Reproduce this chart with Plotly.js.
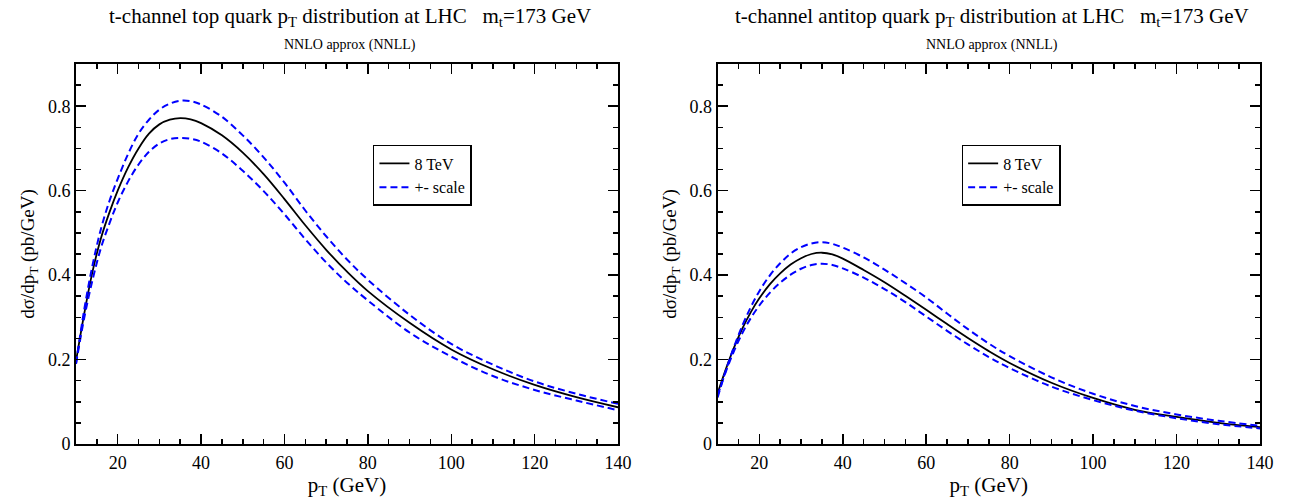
<!DOCTYPE html>
<html>
<head>
<meta charset="utf-8">
<script src="https://cdn.plot.ly/plotly-3.0.1.min.js"></script>
<style>html,body{margin:0;padding:0;background:#fff;}#chart{width:1290px;height:499px;}</style>
</head>
<body>
<div id="chart"></div>
<script>
// p_T grid (GeV)
const ptValues = [10,12,14,16,18,20,22.5,25,27.5,30,32.5,35,37.5,40,45,50,55,60,65,70,75,80,90,100,110,120,130,140];

// Left panel: top quark, 8 TeV
const topCentral = [0.196,0.31,0.41,0.488,0.548,0.600,0.655,0.700,0.735,0.757,0.768,0.772,0.769,0.760,0.731,0.690,0.639,0.580,0.518,0.460,0.408,0.362,0.287,0.224,0.177,0.140,0.111,0.087];
const topUpper   = [0.19,0.32,0.425,0.51,0.575,0.628,0.687,0.735,0.768,0.792,0.806,0.813,0.812,0.804,0.775,0.731,0.679,0.619,0.553,0.492,0.437,0.389,0.306,0.237,0.188,0.148,0.119,0.095];
const topLower   = [0.19,0.30,0.39,0.465,0.522,0.572,0.622,0.662,0.692,0.712,0.722,0.725,0.723,0.716,0.688,0.647,0.599,0.544,0.485,0.430,0.382,0.340,0.264,0.207,0.161,0.128,0.103,0.080];

// Right panel: antitop quark, 8 TeV
const antiCentral = [0.12,0.178,0.23,0.275,0.313,0.345,0.378,0.404,0.425,0.440,0.450,0.453,0.449,0.439,0.412,0.383,0.351,0.318,0.284,0.251,0.220,0.192,0.145,0.109,0.081,0.064,0.050,0.040];
const antiUpper   = [0.11,0.175,0.232,0.282,0.325,0.362,0.399,0.428,0.451,0.466,0.475,0.478,0.474,0.465,0.442,0.413,0.381,0.347,0.309,0.272,0.238,0.208,0.158,0.119,0.090,0.070,0.055,0.043];
const antiLower   = [0.115,0.172,0.222,0.264,0.299,0.328,0.358,0.382,0.401,0.415,0.424,0.427,0.424,0.416,0.394,0.367,0.336,0.302,0.268,0.236,0.206,0.180,0.136,0.104,0.079,0.061,0.047,0.037];

const seriesNames = ['8 TeV', '+- scale'];
const titleLeft = 't-channel top quark p<sub>T</sub> distribution at LHC\u00a0\u00a0\u00a0m<sub>t</sub>=173 GeV';
const titleRight = 't-channel antitop quark p<sub>T</sub> distribution at LHC\u00a0\u00a0\u00a0m<sub>t</sub>=173 GeV';
const subTitle = 'NNLO approx (NNLL)';
const xTitle = 'p<sub>T</sub> (GeV)';
const yTitle = 'd\u03c3/dp<sub>T</sub> (pb/GeV)';

const FONT = '"Liberation Serif", "Times New Roman", Times, serif';
const blueDash = {color:'#0000ff', width:2, dash:'7px,4px', shape:'spline', smoothing:1};
const blackLine = {color:'#000000', width:1.8, shape:'spline', smoothing:1};

const traces = [
  {x:ptValues, y:topCentral, type:'scatter', mode:'lines', name:seriesNames[0], line:blackLine, xaxis:'x', yaxis:'y', legend:'legend'},
  {x:ptValues, y:topUpper, type:'scatter', mode:'lines', name:seriesNames[1], line:blueDash, xaxis:'x', yaxis:'y', legend:'legend'},
  {x:ptValues, y:topLower, type:'scatter', mode:'lines', name:seriesNames[1], line:blueDash, xaxis:'x', yaxis:'y', legend:'legend', showlegend:false},
  {x:ptValues, y:antiCentral, type:'scatter', mode:'lines', name:seriesNames[0], line:blackLine, xaxis:'x2', yaxis:'y2', legend:'legend2'},
  {x:ptValues, y:antiUpper, type:'scatter', mode:'lines', name:seriesNames[1], line:blueDash, xaxis:'x2', yaxis:'y2', legend:'legend2'},
  {x:ptValues, y:antiLower, type:'scatter', mode:'lines', name:seriesNames[1], line:blueDash, xaxis:'x2', yaxis:'y2', legend:'legend2', showlegend:false}
];

function xAxis(domain, anchor){
  return {
    domain:domain, anchor:anchor, range:[10,140], tick0:0, dtick:20,
    ticks:'inside', ticklen:10, tickwidth:1.5, tickcolor:'#000',
    minor:{dtick:5, ticks:'inside', ticklen:5, tickwidth:1.5, tickcolor:'#000', showgrid:false},
    mirror:'ticks', showline:true, linewidth:2, linecolor:'#000',
    showgrid:false, zeroline:false, ticklabelstandoff:1,
    tickfont:{family:FONT, size:18, color:'#000'},
    title:{text:xTitle, font:{family:FONT, size:21, color:'#000'}, standoff:2}
  };
}
function yAxis(anchor){
  return {
    anchor:anchor, range:[0,0.9], tick0:0, dtick:0.2,
    ticks:'inside', ticklen:10, tickwidth:1.5, tickcolor:'#000',
    minor:{dtick:0.05, ticks:'inside', ticklen:5, tickwidth:1.5, tickcolor:'#000', showgrid:false},
    mirror:'ticks', showline:true, linewidth:2, linecolor:'#000',
    showgrid:false, zeroline:false, ticklabelstandoff:0,
    tickfont:{family:FONT, size:18, color:'#000'},
    title:{text:yTitle, font:{family:FONT, size:19, color:'#000'}, standoff:8}
  };
}
const legendBase = {
  xanchor:'left', yanchor:'top', bgcolor:'#fff', bordercolor:'#000', borderwidth:1.5,
  font:{family:FONT, size:16, color:'#000'}, tracegroupgap:0
};

const layout = {
  width:1290, height:499,
  margin:{l:76, r:30, t:64, b:55},
  paper_bgcolor:'#fff', plot_bgcolor:'#fff',
  showlegend:true,
  font:{family:FONT, color:'#000'},
  xaxis: xAxis([0, 0.4578], 'y'),
  yaxis: yAxis('x'),
  xaxis2: xAxis([0.5419, 1], 'y2'),
  yaxis2: yAxis('x2'),
  legend: Object.assign({x:0.2508, y:0.787}, legendBase),
  legend2: Object.assign({x:0.748, y:0.787}, legendBase),
  annotations:[
    {text:titleLeft, xref:'paper', yref:'paper', x:0.2314, y:1.124, xanchor:'center', yanchor:'middle', showarrow:false, font:{family:FONT, size:21, color:'#000'}},
    {text:subTitle, xref:'paper', yref:'paper', x:0.2314, y:1.05, xanchor:'center', yanchor:'middle', showarrow:false, font:{family:FONT, size:14, color:'#000'}},
    {text:titleRight, xref:'paper', yref:'paper', x:0.7736, y:1.124, xanchor:'center', yanchor:'middle', showarrow:false, font:{family:FONT, size:21, color:'#000'}},
    {text:subTitle, xref:'paper', yref:'paper', x:0.7736, y:1.05, xanchor:'center', yanchor:'middle', showarrow:false, font:{family:FONT, size:14, color:'#000'}}
  ]
};

Plotly.newPlot('chart', traces, layout, {staticPlot:true, displayModeBar:false});
</script>
</body>
</html>
